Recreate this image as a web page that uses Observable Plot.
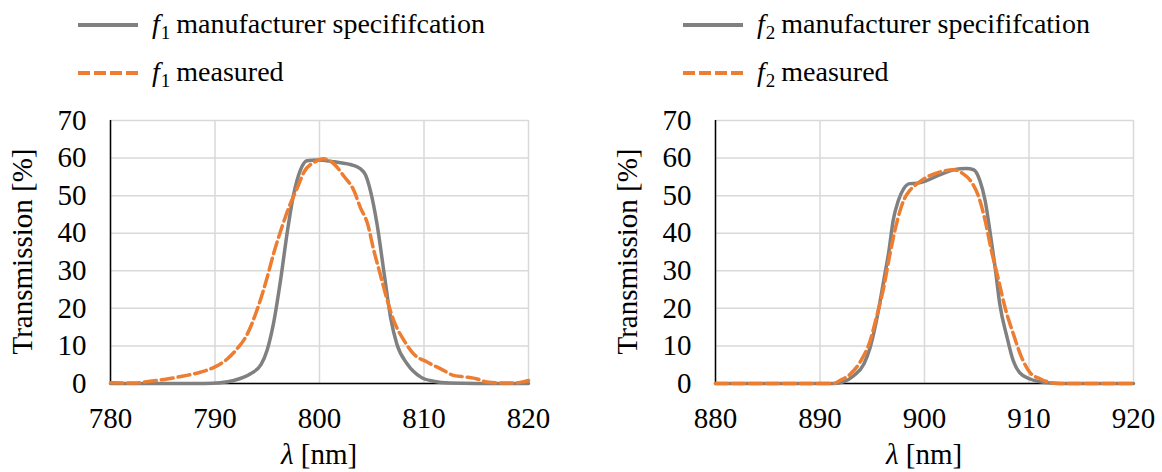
<!DOCTYPE html>
<html>
<head>
<meta charset="utf-8">
<script src="https://cdn.jsdelivr.net/npm/d3@7"></script>
<script src="https://cdn.jsdelivr.net/npm/@observablehq/plot@0.6"></script>
<style>
  body { margin: 0; background: #fff; }
  #root { position: relative; width: 1162px; height: 472px; font-family: "Liberation Serif", "Times New Roman", Times, Tinos, "Noto Serif", "DejaVu Serif", "Nimbus Roman", "FreeSerif", "Noto Serif CJK SC", serif; color: #000; overflow: hidden; }
  .leg { position: absolute; font-size: 28px; line-height: 1; white-space: nowrap; height: 34px; }
  .leg svg { position: absolute; left: 0; top: 12px; }
  .leg .t { position: absolute; left: 74px; top: 2px; }
  .leg i { font-style: italic; }
  .leg .sub { font-size: 19px; position: relative; top: 6px; margin: 0 6px 0 1px; }
  .chart { position: absolute; top: 100px; }
</style>
</head>
<body>
<div id="root"></div>
<script>
// ---------- data ----------
const yTicks = [0, 10, 20, 30, 40, 50, 60, 70];
const xTicks1 = [780, 790, 800, 810, 820];
const xTicks2 = [880, 890, 900, 910, 920];

// f1 manufacturer specification
const f1SpecX = [780, 785, 789, 790.5, 791.8, 793.4, 794.4, 795, 795.6, 796.3, 796.9, 797.5, 798.2, 798.8, 799.8, 801.4, 803.3, 804.3, 804.9, 805.5, 806.2, 806.8, 807.4, 808.4, 809.7, 810.9, 812.5, 815, 820];
const f1SpecY = [0, 0, 0, 0.2, 0.8, 2.6, 5, 9, 16, 28, 40, 50, 57, 59.3, 59.5, 59, 58, 56, 51, 42.5, 29, 17.6, 10.5, 5.2, 1.7, 0.6, 0.1, 0, 0];
// f1 measured
const f1MeasX = [780, 782.2, 783.8, 785.4, 787, 788.6, 789.9, 791.2, 792.1, 793.1, 794, 795, 795.6, 796.4, 797.2, 797.9, 798.5, 799.5, 800.4, 801.4, 802.3, 803.3, 803.9, 804.6, 805.2, 805.8, 806.5, 807.1, 808.1, 809, 810.3, 811.6, 812.9, 814.1, 815.1, 816, 818, 819.2, 820];
const f1MeasY = [0.2, 0.1, 0.6, 1.2, 2, 3, 4.3, 6.6, 9.2, 13.2, 19.4, 28.3, 34.5, 41.6, 47.8, 52.2, 56.2, 58.9, 59.8, 58.4, 55.3, 51.3, 46.9, 42.5, 35.4, 29.2, 22, 16.8, 11.4, 7.9, 5.7, 3.9, 2.1, 1.7, 1.2, 0.4, 0.1, 0.3, 0.8];

// f2 manufacturer specification
const f2SpecX = [880, 885, 891.3, 892.3, 893.2, 894.2, 894.8, 895.4, 896.1, 896.6, 897, 897.5, 898, 898.6, 899.3, 900.2, 901.5, 902.8, 904, 904.7, 905.3, 905.8, 906.3, 906.8, 907.2, 907.9, 908.5, 909.1, 910.1, 911.4, 913, 920];
const f2SpecY = [0, 0, 0, 0.5, 2, 5.2, 9.6, 16.7, 27.4, 35.4, 43.4, 48.7, 51.8, 53.2, 53.3, 54, 55.6, 56.9, 57.2, 56.9, 54, 48.7, 39.8, 30, 21.2, 12.3, 6, 2.9, 1.2, 0.3, 0, 0];
// f2 measured
const f2MeasX = [880, 885, 891.3, 891.9, 892.9, 893.9, 894.8, 895.4, 896.1, 896.7, 897.4, 898, 898.6, 899.3, 900.2, 901.5, 902.8, 903.7, 904.5, 905.2, 905.8, 906.4, 907.1, 907.7, 908.5, 909.3, 910.1, 911.1, 912, 913, 920];
const f2MeasY = [0, 0, 0, 0.8, 2.5, 6, 11.4, 17.6, 25.6, 34.5, 43.4, 48.7, 51.4, 53.2, 54.9, 56.3, 56.9, 55.8, 53.6, 49.6, 43.4, 35.4, 27.4, 20.3, 13.2, 6.9, 2.9, 1.2, 0.3, 0, 0];

const legendTexts = ["manufacturer specififcation", "measured"];
const xLabelText = "[nm]";
const yLabelText = "Transmission [%]";

// ---------- helpers ----------
const toRows = (xs, ys) => xs.map((x, i) => ({x, y: ys[i]}));
const GRAY = "#808080", ORANGE = "#ed7d31", GRID = "#d9d9d9";
const FONT = "'Liberation Serif', 'Times New Roman', Times, Tinos, 'Noto Serif', 'DejaVu Serif', 'Nimbus Roman', FreeSerif, 'Noto Serif CJK SC', serif";

const root = document.getElementById("root");

function legend(left, top, sub, text, dashed) {
  const d = document.createElement("div");
  d.className = "leg";
  d.style.left = left + "px";
  d.style.top = top + "px";
  d.innerHTML = `<svg width="60" height="10"><line x1="0" x2="60" y1="5" y2="5" stroke="${dashed ? ORANGE : GRAY}" stroke-width="4" ${dashed ? 'stroke-dasharray="12,4"' : ""}/></svg><span class="t"><i>f</i><span class="sub">${sub}</span>${text}</span>`;
  root.appendChild(d);
}

function chart(left, width, marginRight, xDomain, xTicks, spec, meas) {
  const svg = Plot.plot({
    width, height: 372,
    marginLeft: 110, marginRight, marginTop: 20, marginBottom: 89,
    style: {fontFamily: FONT, fontSize: "29px", color: "#000", background: "transparent", overflow: "visible"},
    x: {domain: xDomain, label: null},
    y: {domain: [0, 70], label: null},
    marks: [
      Plot.gridX(xTicks, {stroke: GRID, strokeOpacity: 1, strokeWidth: 1.5}),
      Plot.gridY(yTicks, {stroke: GRID, strokeOpacity: 1, strokeWidth: 1.5}),
      Plot.axisX(xTicks, {tickSize: 0, tickPadding: 24, label: null, fontSize: 29, fontFamily: FONT, tickFormat: d => String(d)}),
      Plot.axisY(yTicks, {tickSize: 0, tickPadding: 24, label: null, fontSize: 29, fontFamily: FONT}),
      Plot.ruleX([xDomain[0]], {stroke: "#000", strokeWidth: 1.5}),
      Plot.ruleY([0], {stroke: "#000", strokeWidth: 1.5}),
      Plot.line(spec, {x: "x", y: "y", stroke: GRAY, strokeWidth: 3.5, curve: "monotone-x"}),
      Plot.line(meas, {x: "x", y: "y", stroke: ORANGE, strokeWidth: 3.5, strokeDasharray: "12,5", curve: "monotone-x"})
    ]
  });
  svg.classList.add("chart");
  svg.style.left = left + "px";
  const s = d3.select(svg);
  const cx = 110 + (width - 110 - marginRight) / 2;
  const xl = s.append("text").attr("x", cx).attr("y", 364).attr("text-anchor", "middle")
    .attr("font-family", FONT).attr("font-size", 29).attr("fill", "#000");
  xl.append("tspan").attr("font-style", "italic").text("\u03bb");
  xl.append("tspan").text(" " + xLabelText);
  s.append("text").attr("transform", `translate(32, ${20 + 263 / 2}) rotate(-90)`)
    .attr("text-anchor", "middle").attr("font-family", FONT).attr("font-size", 29).attr("fill", "#000")
    .text(yLabelText);
  root.appendChild(svg);
}

legend(78, 8, 1, legendTexts[0], false);
legend(78, 56, 1, legendTexts[1], true);
legend(683, 8, 2, legendTexts[0], false);
legend(683, 56, 2, legendTexts[1], true);

chart(0, 581, 53, [780, 820], xTicks1, toRows(f1SpecX, f1SpecY), toRows(f1MeasX, f1MeasY));
chart(605, 557, 29, [880, 920], xTicks2, toRows(f2SpecX, f2SpecY), toRows(f2MeasX, f2MeasY));
</script>
</body>
</html>
